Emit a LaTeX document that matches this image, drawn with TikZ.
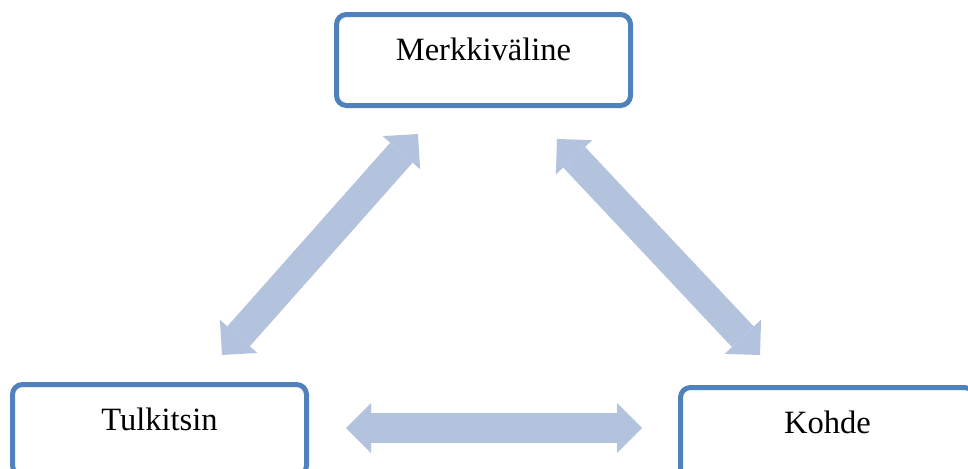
\documentclass[tikz,border=0pt]{standalone}
\usepackage{fontspec}
\setmainfont{Liberation Serif}
\usetikzlibrary{arrows.meta}
\tikzstyle{canvas} = [x = 0.75pt, y = -0.75pt]
\definecolor{boxColor}{RGB}{79,129,189}
\definecolor{arrowColor}{RGB}{179,195,221}
\tikzstyle{boxStyle} = [draw=boxColor, fill=white, line width=3.75pt, rounded corners=7.5pt, minimum width=220.5pt, minimum height=68.25pt, inner sep=0pt, text height=12pt, text depth=12pt, font=\fontsize{24.4}{29}\selectfont]
\tikzstyle{linkArrow} = [color=arrowColor, line width=22.5pt, {Triangle[length=18.75pt, width=37.5pt, line width=0pt]}-{Triangle[length=18.75pt, width=37.5pt, line width=0pt]}]

\begin{document}
\begin{tikzpicture}[canvas]
        \useasboundingbox (0,0) rectangle (968,468);
        \clip (0,0) rectangle (968,468);

        % boxes
        \node [boxStyle] (merkki) at (483.5,60) {Merkkiväline};
        \node [boxStyle] (tulkitsin) at (159.5,430) {Tulkitsin};
        \node [boxStyle] (kohde) at (827.5,433) {Kohde};

        % arrow ends
        \coordinate (leftTop) at (418,134);
        \coordinate (leftBottom) at (222,355);
        \coordinate (rightTop) at (557,139);
        \coordinate (rightBottom) at (760,355);
        \coordinate (bottomLeft) at (346,428);
        \coordinate (bottomRight) at (642,428);

        \draw [linkArrow] (leftTop) -- (leftBottom);
        \draw [linkArrow] (rightTop) -- (rightBottom);
        \draw [linkArrow] (bottomLeft) -- (bottomRight);
      \end{tikzpicture}
\end{document}
